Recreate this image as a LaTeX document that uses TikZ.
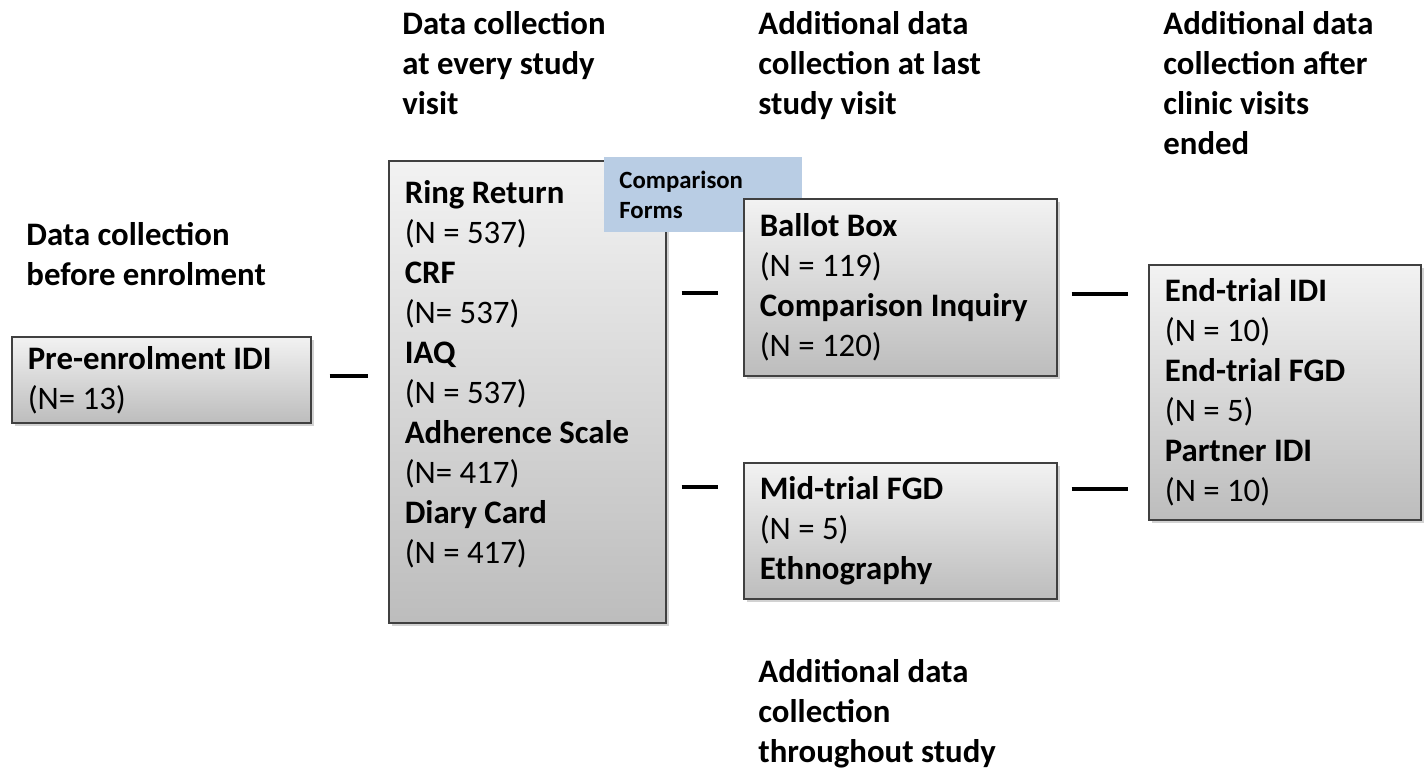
\documentclass[tikz,border=0pt]{standalone}
\usepackage{fontspec}
\setmainfont{Carlito}
\usetikzlibrary{calc,positioning,shadows}
\definecolor{formsblue}{RGB}{185,205,228}
\definecolor{boxline}{RGB}{64,64,64}
\begin{document}
\begin{tikzpicture}[x=0.5pt,y=-0.5pt,
    every node/.style={font=\fontsize{16.4}{20}\selectfont},
    box/.style={anchor=north west,align=flush left,inner xsep=8pt,inner ysep=0pt,draw=boxline,line width=0.8pt,
      top color=gray!10,bottom color=gray!52,
      drop shadow={shadow xshift=1.5pt,shadow yshift=-1.5pt,opacity=0.35}},
    head/.style={anchor=north west,align=left,inner sep=0pt,font=\fontsize{16.4}{20}\selectfont\bfseries},
    link/.style={line width=2pt}]

    \fill[white] (0,0) rectangle (1424,769);
    \useasboundingbox (0,0) rectangle (1424,769);

    \node[box,text width=133.5pt,minimum height=43pt] (PRE) at (11,336) {\textbf{Pre-enrolment IDI}\\(N= 13)};
    \node[box,text width=122.5pt,minimum height=231pt] (VISIT) at (388,160) {\textbf{Ring Return}\\(N = 537)\\\textbf{CRF}\\(N= 537)\\\textbf{IAQ}\\(N = 537)\\\textbf{Adherence Scale}\\(N= 417)\\\textbf{Diary Card}\\(N = 417)\\\mbox{}};
    \node[anchor=north west,align=flush left,fill=formsblue,inner xsep=7.5pt,inner ysep=0pt,text width=84pt,minimum height=37.5pt,
      font=\fontsize{12.4}{15}\selectfont\bfseries] (FORMS) at (604,157) {Comparison\\Forms};
    \node[box,text width=140.5pt,minimum height=88.5pt] (BALLOT) at (743,198) {\textbf{Ballot Box}\\(N = 119)\\\textbf{Comparison Inquiry}\\(N = 120)};
    \node[box,text width=140.5pt,minimum height=68pt] (MIDTRIAL) at (743,462) {\textbf{Mid-trial FGD}\\(N = 5)\\\textbf{Ethnography}};
    \node[box,text width=120pt,minimum height=127.5pt] (END) at (1148,264) {\textbf{End-trial IDI}\\(N = 10)\\\textbf{End-trial FGD}\\(N = 5)\\\textbf{Partner IDI}\\(N = 10)};

    \node[head] (HPRE) at (26,222) {Data collection\\before enrolment};
    \node[head] (HVISIT) at (402,11) {Data collection\\at every study\\visit};
    \node[head] (HLAST) at (758,11) {Additional data\\collection at last\\study visit};
    \node[head] (HAFTER) at (1163,11) {Additional data\\collection after\\clinic visits\\ended};
    \node[head] (HTHROUGH) at (758,659) {Additional data\\collection\\throughout study};

    \draw[link,shorten <=9pt,shorten >=10pt] ([yshift=2pt]PRE.east) -- ([yshift=2pt]PRE.east -| VISIT.west);
    \draw[link,shorten <=7.5pt,shorten >=12.5pt] ([yshift=-2.75pt]BALLOT.west -| VISIT.east) -- ([yshift=-2.75pt]BALLOT.west);
    \draw[link,shorten <=7.5pt,shorten >=12.5pt] ([yshift=22pt]MIDTRIAL.west -| VISIT.east) -- ([yshift=22pt]MIDTRIAL.west);
    \draw[link,shorten <=7pt,shorten >=10pt] ([yshift=-3.25pt]BALLOT.east) -- ([yshift=-3.25pt]BALLOT.east -| END.west);
    \draw[link,shorten <=7pt,shorten >=10pt] ([yshift=21pt]MIDTRIAL.east) -- ([yshift=21pt]MIDTRIAL.east -| END.west);
\end{tikzpicture}
\end{document}
